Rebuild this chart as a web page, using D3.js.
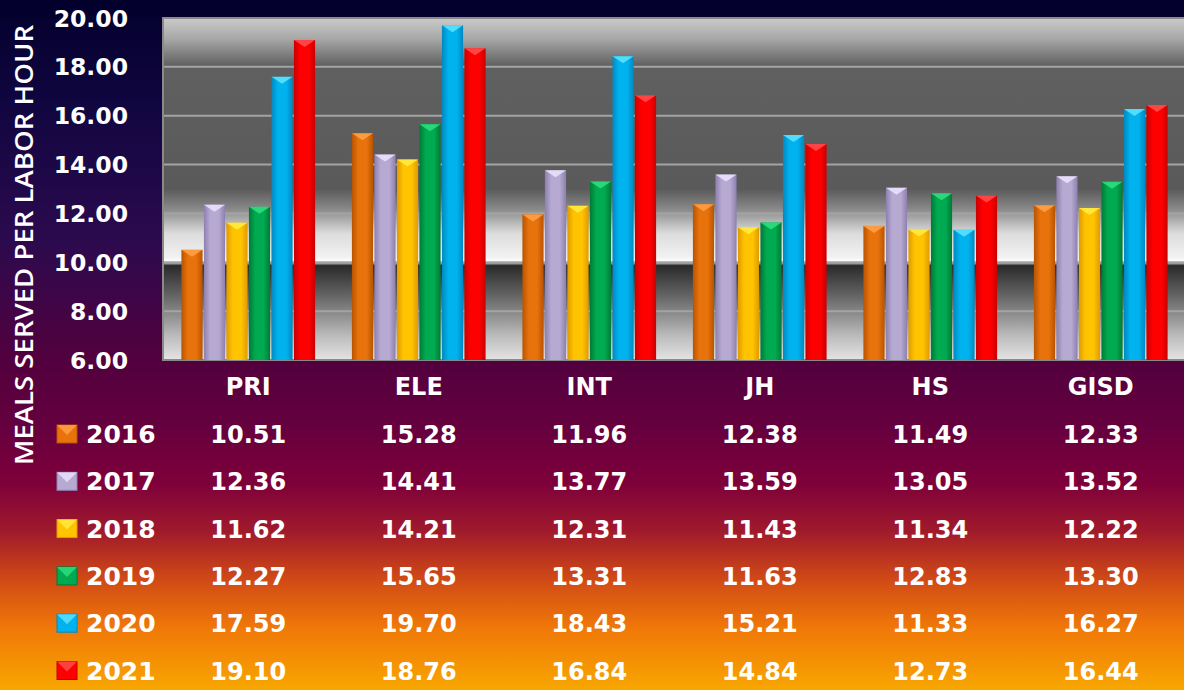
<!DOCTYPE html>
<html lang="en">

<head>
    <meta charset="utf-8">
    <script src="https://cdn.jsdelivr.net/npm/d3@7"></script>
    <title>Meals served per labor hour</title>
    <style>
        body { margin: 0; overflow: hidden; }
        text { font-family: "DejaVu Sans", sans-serif; font-weight: bold; fill: #ffffff; }
    </style>
</head>

<body>
    <svg width="1184" height="690" id="plot"></svg>
    <script>
    // Data
    const schools = ["PRI", "ELE", "INT", "JH", "HS", "GISD"]
    const years = ["2016", "2017", "2018", "2019", "2020", "2021"]
    const v2016 = [10.51, 15.28, 11.96, 12.38, 11.49, 12.33]
    const v2017 = [12.36, 14.41, 13.77, 13.59, 13.05, 13.52]
    const v2018 = [11.62, 14.21, 12.31, 11.43, 11.34, 12.22]
    const v2019 = [12.27, 15.65, 13.31, 11.63, 12.83, 13.30]
    const v2020 = [17.59, 19.70, 18.43, 15.21, 11.33, 16.27]
    const v2021 = [19.10, 18.76, 16.84, 14.84, 12.73, 16.44]
    const yTicks = [6, 8, 10, 12, 14, 16, 18, 20]

    const seriesValues = [v2016, v2017, v2018, v2019, v2020, v2021]
    const colors = [
        { base: "#e8720c", dark: "#b85400", light: "#ffa24a" },
        { base: "#b6a9d2", dark: "#8e80ae", light: "#ece4ff" },
        { base: "#ffc300", dark: "#e09a00", light: "#ffee44" },
        { base: "#00aa50", dark: "#007a36", light: "#30e080" },
        { base: "#00b2ee", dark: "#0088c0", light: "#60e4ff" },
        { base: "#ff0000", dark: "#c80000", light: "#ff5050" }
    ]

    let svg = d3.select("#plot")
    let defs = svg.append("defs")

    // page background
    let bg = defs.append("linearGradient").attr("id", "bg")
        .attr("x1", 0).attr("y1", 0).attr("x2", 0).attr("y2", 1)
    const bgStops = [[0, "#03002c"], [0.15, "#100640"], [0.35, "#2c0a4e"], [0.52, "#52003e"],
        [0.62, "#66003e"], [0.7, "#7e003a"], [0.77, "#a01a2c"], [0.84, "#d04a16"],
        [0.91, "#f07808"], [1, "#f8a600"]]
    bgStops.forEach(s => bg.append("stop").attr("offset", s[0]).attr("stop-color", s[1]))
    svg.append("rect").attr("width", 1184).attr("height", 690).attr("fill", "url(#bg)")

    // plot area
    const plotLeft = 163, plotRight = 1186, plotTop = 18, plotBottom = 360

    let scaleY = d3.scaleLinear().domain([6, 20]).range([plotBottom, plotTop])
    let scaleX = d3.scaleBand().domain(schools).range([plotLeft, plotRight])
        .paddingInner(0.2).paddingOuter(0.1)
    let scaleInner = d3.scaleBand().domain(years).range([0, scaleX.bandwidth()]).padding(0.06)

    // chrome-like plot background
    let pb = defs.append("linearGradient").attr("id", "plotbg")
        .attr("x1", 0).attr("y1", 0).attr("x2", 0).attr("y2", 1)
    const pbStops = [[0, "#cacaca"], [0.06, "#a8a8a8"], [0.14, "#606060"], [0.5, "#5a5a5a"],
        [0.56, "#8a8a8a"], [0.63, "#dcdcdc"], [0.7, "#f2f2f2"], [0.712, "#ffffff"],
        [0.724, "#2a2a2a"], [0.82, "#6a6a6a"], [0.93, "#bcbcbc"], [1, "#e4e4e4"]]
    pbStops.forEach(s => pb.append("stop").attr("offset", s[0]).attr("stop-color", s[1]))

    svg.append("rect")
        .attr("x", plotLeft).attr("y", plotTop)
        .attr("width", plotRight - plotLeft).attr("height", plotBottom - plotTop)
        .attr("fill", "url(#plotbg)")

    // gridlines
    svg.append("g")
        .selectAll("line")
        .data(yTicks.slice(1, -1))
        .enter()
        .append("line")
        .attr("x1", plotLeft).attr("x2", plotRight)
        .attr("y1", d => scaleY(d)).attr("y2", d => scaleY(d))
        .attr("stroke", "#a4a4a4")
        .attr("stroke-width", 2)

    svg.append("rect")
        .attr("x", plotLeft).attr("y", plotTop)
        .attr("width", plotRight - plotLeft).attr("height", plotBottom - plotTop)
        .attr("fill", "none")
        .attr("stroke", "#8a8a8a")
        .attr("stroke-width", 2)

    // bar gradients
    colors.forEach((c, i) => {
        let g = defs.append("linearGradient").attr("id", "bar" + i)
            .attr("x1", 0).attr("y1", 0).attr("x2", 1).attr("y2", 0)
        g.append("stop").attr("offset", 0).attr("stop-color", c.dark)
        g.append("stop").attr("offset", 0.3).attr("stop-color", c.base)
        g.append("stop").attr("offset", 0.7).attr("stop-color", c.base)
        g.append("stop").attr("offset", 1).attr("stop-color", c.dark)
    })

    // bars
    schools.forEach((school, si) => {
        let group = svg.append("g")
            .attr("transform", "translate(" + scaleX(school) + ",0)")
        years.forEach((year, yi) => {
            let val = seriesValues[yi][si]
            let x0 = scaleInner(year)
            let w = scaleInner.bandwidth()
            let y0 = scaleY(val)
            group.append("rect")
                .attr("x", x0).attr("y", y0)
                .attr("width", w).attr("height", scaleY(6) - y0)
                .attr("fill", "url(#bar" + yi + ")")
            group.append("path")
                .attr("d", "M" + x0 + "," + y0 + "L" + (x0 + w) + "," + y0 + "L" + (x0 + w / 2) + "," + (y0 + 7) + "Z")
                .attr("fill", colors[yi].light)
                .attr("opacity", 0.85)
        })
    })

    // y axis labels
    svg.append("g")
        .selectAll("text")
        .data(yTicks)
        .enter()
        .append("text")
        .attr("x", 128)
        .attr("y", d => scaleY(d) + 8.5)
        .attr("text-anchor", "end")
        .style("font-size", "23.5px")
        .text(d => d.toFixed(2))

    svg.append("text")
        .attr("transform", "translate(33,245) rotate(-90)")
        .attr("text-anchor", "middle")
        .style("font-size", "25px")
        .style("font-family", "'Open Sans', sans-serif")
        .style("font-weight", "600")
        .attr("textLength", 440)
        .attr("lengthAdjust", "spacingAndGlyphs")
        .text("MEALS SERVED PER LABOR HOUR")

    // data table
    svg.append("g")
        .selectAll("text")
        .data(schools)
        .enter()
        .append("text")
        .attr("x", d => scaleX(d) + scaleX.bandwidth() / 2)
        .attr("y", 386 + 8.7)
        .attr("text-anchor", "middle")
        .style("font-size", "24px")
        .text(d => d)

    const rowY0 = 434, rowStep = 47.3
    years.forEach((year, yi) => {
        let cy = rowY0 + yi * rowStep
        let c = colors[yi]
        svg.append("rect")
            .attr("x", 57).attr("y", cy - 9)
            .attr("width", 20).attr("height", 18)
            .attr("fill", c.base)
            .attr("stroke", c.dark)
        svg.append("path")
            .attr("d", "M57," + (cy - 9) + "L77," + (cy - 9) + "L67," + (cy + 1) + "Z")
            .attr("fill", c.light)
            .attr("opacity", 0.8)
        svg.append("text")
            .attr("x", 86).attr("y", cy + 9)
            .style("font-size", "25px")
            .text(year)
        svg.append("g")
            .selectAll("text")
            .data(seriesValues[yi])
            .enter()
            .append("text")
            .attr("x", (d, i) => scaleX(schools[i]) + scaleX.bandwidth() / 2)
            .attr("y", cy + 9)
            .attr("text-anchor", "middle")
            .style("font-size", "24px")
            .text(d => d.toFixed(2))
    })
    </script>
</body>

</html>
